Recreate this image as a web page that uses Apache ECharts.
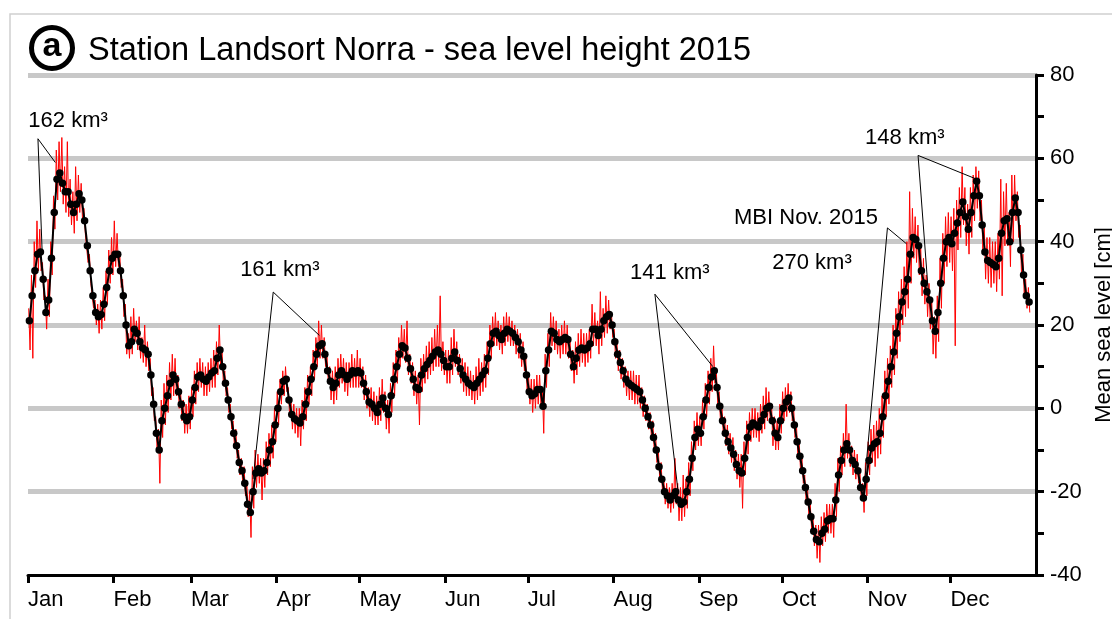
<!DOCTYPE html>
<html>
<head>
<meta charset="utf-8">
<script src="https://cdn.jsdelivr.net/npm/echarts@6/dist/echarts.min.js"></script>
<style>
html, body { margin: 0; padding: 0; background: #fff; }
#chart { width: 1112px; height: 619px; }
</style>
</head>
<body>
<div id="chart"></div>
<script>
const monthNames = ['Jan', 'Feb', 'Mar', 'Apr', 'May', 'Jun', 'Jul', 'Aug', 'Sep', 'Oct', 'Nov', 'Dec'];
const monthStarts = [0, 31, 59, 90, 120, 151, 181, 212, 243, 273, 304, 334];

// daily mean sea level, cm (black dots), day 0 = 1 Jan 2015
const dailyMean = [
  21, 27, 33, 37, 37.5, 31, 23, 26, 36, 47,
  55, 56.5, 54, 52, 52, 49, 47, 49, 51.5, 50,
  45, 39, 33, 27, 23, 22, 22.5, 25, 29, 33,
  36, 37, 37, 33, 27, 20, 15, 16, 19, 18,
  16, 14.5, 14, 13, 8, 1, -6, -10, -3, 0,
  3, 6, 8, 7, 4, 1, -2, -3, -2, 2,
  5, 7.5, 8, 7, 6.5, 7.5, 8.5, 9, 12, 14,
  10, 6, 2, -2, -6, -9, -13, -15, -18, -23,
  -25, -20, -15.5, -14.5, -15.5, -15, -13, -10, -8, -4,
  0, 4, 6.5, 7, 2, -1.5, -2.5, -3, -3.5, -2,
  1, 4, 7, 10, 13, 15, 15.5, 13, 9, 6.5,
  5, 6, 8, 9, 8, 7, 8, 9, 8.5, 9,
  8.5, 6, 4, 1.5, 1, 0, -1, 1, 2.5, 0,
  -1.5, 3, 7, 10, 13, 15, 14.5, 12, 9.5, 7,
  5, 4.5, 8, 9.5, 10.5, 11.5, 12.5, 13.5, 14, 13,
  11.5, 10, 10, 12, 13.5, 11.5, 9.5, 8, 7, 6,
  5.5, 5, 6, 7, 8, 9, 12, 15.5, 18, 18.5,
  17.5, 16.5, 18, 19, 18.5, 18, 17, 16, 14, 12.5,
  8, 4, 3, 3.5, 4.5, 4.5, 0.5, 9, 14, 18.5,
  18, 16.5, 16, 16.5, 17, 16.5, 13, 10, 12, 14,
  14.5, 14, 14.5, 15.5, 19, 19, 17.5, 19, 21, 22,
  22.5, 20, 16, 13, 11, 9, 7, 6, 5.5, 5,
  4.5, 4, 2, 0, -2, -4, -7, -10, -14, -17,
  -20, -21, -22, -21, -20, -22, -23, -22.5, -20, -17,
  -12, -7, -5, -6, -2, 2, 5, 7.5, 9, 5,
  0.5, -3, -6, -8, -9.5, -11, -13.5, -15, -15.5, -12,
  -7, -4.5, -3.5, -4, -4.5, -3, -1.5, 0, 0.5, -3,
  -6, -7, -3, 0, 1.5, 2.5, 0, -4, -8, -11.5,
  -15, -19, -22.5, -26, -29.5, -31.5, -32, -30, -29, -27,
  -26.5, -26.5, -22, -16, -12.5, -10, -8.5, -10, -12.5, -13.5,
  -15, -19, -21.5, -17, -12.5, -9.5, -8.5, -8, -6, -2,
  3, 6.5, 10, 13.5, 18, 22, 25.5, 28, 31, 37,
  41, 40.5, 39, 33, 30, 28, 26, 21, 18.5, 23,
  30, 36, 40, 41, 39.5, 42, 44.5, 47, 49.5, 46,
  43, 47, 51, 54.5, 51, 44, 37.5, 35.5, 35, 34.5,
  34, 36, 42, 45, 45.5, 40, 47, 50.5, 47, 38,
  32, 27, 25.5
];

// hourly record (red), daily highs and lows, cm
const hourlyHigh = [
  24, 32, 40, 45, 43, 35, 27, 31, 40, 51,
  62, 64, 65, 58, 64, 55, 52, 58, 56, 54,
  48, 42, 37, 30, 26, 25, 26, 29, 33, 38,
  41, 45, 42, 37, 31, 25, 18, 22, 24, 21,
  22, 17, 20, 16, 12, 5, -2, -5, 2, 6,
  8, 11, 13, 12, 8, 4, 2, 1, 3, 5,
  9, 11, 12, 11, 10, 11, 12, 14, 16, 20,
  14, 9, 5, 1, -3, -5, -10, -12, -14, -18,
  -20, -14, -10, -11, -12, -12, -8, -6, -4, 0,
  4, 7, 9, 10, 5, 2, 1, 0, 0, 2,
  5, 8, 10, 14, 17, 21, 20, 17, 13, 10,
  9, 10, 12, 13, 12, 11, 11, 13, 12, 14,
  12, 10, 8, 5, 5, 4, 3, 5, 7, 4,
  2, 6, 11, 14, 17, 20, 19, 21, 13, 11,
  9, 8, 12, 13, 15, 16, 17, 19, 20, 27,
  16, 14, 14, 17, 19, 16, 13, 12, 11, 10,
  9, 8, 10, 12, 11, 13, 16, 20, 22, 23,
  21, 20, 22, 23, 22, 21, 20, 19, 18, 16,
  12, 8, 7, 7, 8, 8, 5, 13, 18, 23,
  22, 21, 19, 20, 21, 20, 17, 14, 16, 18,
  19, 18, 18, 19, 25, 23, 21, 28, 24, 27,
  26, 23, 19, 16, 14, 12, 10, 9, 9, 9,
  8, 8, 5, 3, 1, -1, -3, -6, -10, -13,
  -17, -18, -19, -18, -12, -18, -19, -16, -17, -13,
  -8, -3, -1, -2, 2, 6, 9, 12, 15, 9,
  4, 1, -2, -4, -6, -7, -10, -11, -11, -8,
  -3, -1, 0, 0, -1, 1, 3, 5, 4, 1,
  -2, -3, 1, 4, 5, 6, 4, 0, -4, -8,
  -12, -16, -19, -23, -26, -28, -28, -26, -25, -23,
  -23, -23, -18, -12, -9, -6, 1, -6, -9, -10,
  -11, -15, -18, -13, -8, -5, -4, -3, 0, 3,
  9, 12, 15, 20, 24, 28, 31, 34, 40, 52,
  48, 46, 44, 39, 36, 32, 30, 26, 22, 27,
  36, 42, 46, 47, 46, 48, 50, 53, 58, 53,
  49, 53, 56, 58, 57, 50, 44, 41, 41, 40,
  40, 42, 55, 52, 54, 47, 56, 56, 52, 44,
  37, 31, 29
];
const hourlyLow = [
  14, 12, 29, 33, 33, 26, 19, 22, 32, 43,
  50, 52, 49, 47, 46, 44, 42, 45, 47, 45,
  42, 35, 30, 24, 20, 18, 19, 21, 25, 30,
  32, 34, 34, 29, 22, 13, 12, 13, 16, 14,
  12, 11, 10, 9, 3, -3, -10, -18, -7, -4,
  -1, 2, 3, 3, 0, -3, -6, -6, -5, -2,
  1, 4, 5, 3, 3, 4, 5, 5, 8, 10,
  6, 3, -1, -5, -9, -12, -16, -18, -21, -26,
  -31, -24, -19, -18, -22, -19, -16, -14, -12, -8,
  -4, 1, 3, 4, -2, -5, -6, -7, -9, -5,
  -3, 1, 3, 7, 10, 12, 12, 10, 6, 2,
  1, 2, 5, 6, 4, 3, 5, 5, 5, 5,
  5, 2, 0, -2, -3, -4, -4, -3, -1, -5,
  -6, -1, 3, 6, 10, 12, 11, 8, 6, 3,
  1, -4, 4, 6, 7, 8, 9, 10, 10, 9,
  8, 6, 6, 8, 10, 8, 6, 4, 3, 3,
  2, 1, 2, 3, 4, 5, 8, 12, 15, 15,
  14, 13, 15, 16, 15, 15, 13, 12, 10, 9,
  4, 1, -1, 0, 1, 1, -6, 5, 10, 15,
  14, 13, 12, 13, 13, 12, 9, 6, 8, 10,
  11, 10, 11, 12, 15, 15, 13, 15, 17, 18,
  19, 17, 12, 9, 7, 5, 3, 2, 2, 1,
  1, 0, -2, -3, -5, -7, -10, -13, -17, -20,
  -23, -24, -25, -24, -23, -27, -27, -26, -24, -21,
  -15, -10, -9, -9, -5, -2, 1, 4, 6, 1,
  -3, -6, -9, -11, -13, -15, -17, -19, -24, -16,
  -11, -8, -7, -7, -8, -6, -5, -3, -3, -9,
  -10, -10, -6, -3, -2, -1, -3, -7, -11, -15,
  -18, -22, -26, -29, -33, -36, -37, -33, -32, -30,
  -30, -31, -26, -20, -16, -14, -12, -14, -16, -17,
  -18, -22, -25, -21, -16, -13, -14, -12, -11, -7,
  -2, 1, 5, 8, 12, 16, 20, 22, 24, 30,
  36, 35, 32, 27, 25, 22, 19, 13, 12, 16,
  24, 30, 34, 35, 33, 15, 38, 41, 44, 39,
  37, 41, 45, 48, 45, 38, 31, 30, 29, 30,
  28, 31, 27, 39, 39, 34, 40, 45, 41, 32,
  27, 24, 23
];

// inflow annotations: text, text anchor [day, cm], leader lines [[from], [to]]
const noteTexts = ['162 km³', '161 km³', '141 km³', '148 km³', 'MBI Nov. 2015', '270 km³'];
const noteAnchors = [[14.5, 68.9], [91.2, 33.1], [232.4, 32.6], [317.5, 65], [281.7, 45.6], [283.9, 35]];
const noteLines = [
  [[3.6, 64.7], [5.1, 38]], [[3.6, 64.7], [9.9, 59]],
  [[88.8, 27.9], [81.5, -17]], [[88.8, 27.9], [105.5, 17.5]],
  [[227, 27.4], [235.5, -20.5]], [[227, 27.4], [248, 10]],
  [[322.3, 60.7], [343.5, 55]], [[322.3, 60.7], [326, 28]],
  [[311.2, 43.3], [318.1, 39.5]], [[311.2, 43.3], [302.5, -21]]
];

const font = 'Liberation Sans, Arial, sans-serif';

let meanData = dailyMean.map((v, i) => [i + 0.5, v]);
let redData = [];
for (let i = 0; i < hourlyHigh.length; i++) {
  redData.push([i + 0.25, hourlyHigh[i]]);
  redData.push([i + 0.75, hourlyLow[i]]);
}

let option = {
  animation: false,
  textStyle: { fontFamily: font },
  title: {
    text: 'Station Landsort Norra - sea level height 2015',
    left: 83,
    top: 30,
    textStyle: { fontSize: 32.5, fontWeight: 'normal', color: '#000', fontFamily: font }
  },
  graphic: [
    { type: 'polyline', shape: { points: [[10, 619], [10, 14], [1112, 14]] }, style: { stroke: '#d0d0d0', lineWidth: 1.5, fill: null } },
    { type: 'circle', shape: { cx: 52, cy: 48, r: 20.5 }, style: { stroke: '#000', lineWidth: 5, fill: null } },
    { type: 'text', x: 52, y: 47, style: { text: 'a', fontSize: 34, fontWeight: 'bold', fontFamily: font, align: 'center', verticalAlign: 'middle', fill: '#000' } }
  ],
  grid: { left: 28, right: 76, top: 75, bottom: 44, containLabel: false, outerBoundsMode: 'none' },
  xAxis: {
    type: 'value',
    min: 0,
    max: 365,
    axisLine: { onZero: false, lineStyle: { color: '#000', width: 3 } },
    axisTick: { customValues: monthStarts, length: 8, lineStyle: { color: '#000', width: 3 } },
    axisLabel: {
      customValues: monthStarts,
      formatter: v => monthNames[monthStarts.indexOf(v)],
      align: 'left',
      margin: 14,
      fontSize: 22,
      color: '#000'
    },
    splitLine: { show: false }
  },
  yAxis: {
    type: 'value',
    position: 'right',
    min: -40,
    max: 80,
    interval: 20,
    name: 'Mean sea level [cm]',
    nameLocation: 'middle',
    nameGap: 53,
    nameRotate: 90,
    nameTextStyle: { fontSize: 22, color: '#000' },
    axisLine: { show: true, onZero: false, lineStyle: { color: '#000', width: 3 } },
    axisTick: { show: true, length: 8, lineStyle: { color: '#000', width: 3 } },
    minorTick: { show: true, splitNumber: 2, length: 8, lineStyle: { color: '#000', width: 3 } },
    axisLabel: { fontSize: 22, color: '#000', margin: 14 },
    splitLine: { show: true, showMinLine: false, lineStyle: { color: '#c8c8c8', width: 5 } }
  },
  series: [
    {
      name: 'hourly',
      type: 'line',
      data: redData,
      showSymbol: false,
      lineStyle: { color: '#ff0000', width: 1 },
      z: 2
    },
    {
      name: 'daily line',
      type: 'line',
      data: meanData,
      showSymbol: false,
      lineStyle: { color: '#000', width: 2 },
      z: 3
    },
    {
      name: 'daily',
      type: 'scatter',
      data: meanData,
      symbol: 'circle',
      symbolSize: 7.5,
      itemStyle: { color: '#000', opacity: 1 },
      z: 4
    },
    {
      name: 'notes',
      type: 'scatter',
      data: noteTexts.map((t, i) => ({ name: t, value: noteAnchors[i] })),
      symbolSize: 1,
      itemStyle: { color: 'rgba(0,0,0,0)', opacity: 1 },
      label: { show: true, position: 'inside', formatter: '{b}', fontSize: 22, color: '#000', opacity: 1, fontFamily: font },
      markLine: {
        silent: true,
        symbol: ['none', 'none'],
        label: { show: false },
        lineStyle: { color: '#000', width: 1, type: 'solid', opacity: 1 },
        data: noteLines.map(l => [{ coord: l[0] }, { coord: l[1] }])
      },
      z: 5
    }
  ]
};

let myChart = echarts.init(document.getElementById('chart'));
myChart.setOption(option);
</script>
</body>
</html>
